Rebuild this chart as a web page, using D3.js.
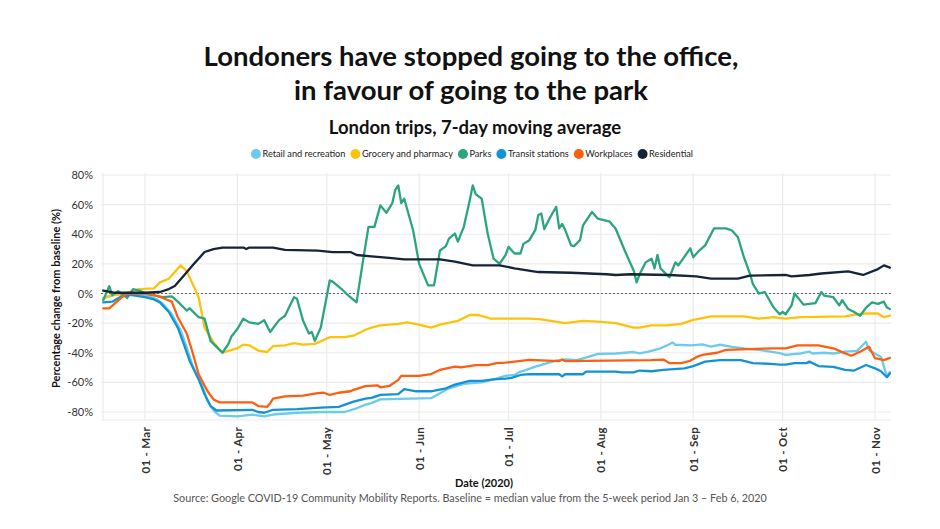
<!DOCTYPE html>
<html>
<head>
<meta charset="utf-8">
<script src="https://cdn.jsdelivr.net/npm/d3@7"></script>
<style>
  html, body { margin: 0; padding: 0; background: #fff; }
  svg { display: block; }
</style>
</head>
<body>
<svg id="chart" width="940" height="529"></svg>
<script>
// ---------- DATA (dates as MM-DD in 2020, values in % change) ----------
const seriesNames = ["Retail and recreation", "Grocery and pharmacy", "Parks", "Transit stations", "Workplaces", "Residential"];
const seriesColors = ["#6ccaeb", "#fcc30a", "#2ba57d", "#1393d3", "#fd5f10", "#17233a"];
const yTicks = [80, 60, 40, 20, 0, -20, -40, -60, -80];
const xTickDates = ["03-01", "04-01", "05-01", "06-01", "07-01", "08-01", "09-01", "10-01", "11-01"];

const retail = [
  ["02-16",-3],["02-20",-1],["02-24",0],["03-01",-1],["03-05",-4],["03-07",-7],["03-10",-14],["03-13",-25],
  ["03-15",-36.5],["03-17",-49],["03-20",-61],["03-22",-72.5],["03-24",-79],["03-26",-82.5],["04-01",-83],
  ["04-06",-81.7],["04-10",-83],["04-13",-81.7],["04-21",-80.5],["04-30",-80],["05-07",-80],["05-11",-77.5],
  ["05-14",-75],["05-16",-74],["05-19",-71.5],["06-05",-70.7],["06-08",-67.3],["06-11",-64],["06-16",-61],
  ["06-22",-60],["06-26",-58],["06-30",-55.6],["07-03",-55],["07-05",-52.7],["07-07",-51.6],["07-10",-49.4],
  ["07-14",-47],["07-17",-45.3],["07-20",-44.5],["07-24",-45],["07-28",-42.6],["07-31",-40.8],["08-06",-40.5],
  ["08-12",-39.5],["08-14",-40.4],["08-17",-39.3],["08-21",-37],["08-24",-34.3],["08-25",-33],["08-26",-34.6],
  ["08-31",-35],["09-04",-34.3],["09-07",-35.8],["09-10",-34.6],["09-14",-36],["09-18",-37],["09-23",-38],
  ["09-28",-39.6],["09-30",-40.3],["10-02",-41.5],["10-07",-40.5],["10-10",-39.3],["10-11",-40.5],["10-15",-40],
  ["10-18",-40.5],["10-22",-39.3],["10-26",-38.7],["10-29",-32.6],["10-30",-38.3],["11-03",-42.8],["11-05",-56],
  ["11-06",-53]
];
const grocery = [
  ["02-16",-3.5],["02-18",-1.5],["02-23",0],["02-28",3],["03-04",3.5],["03-06",7.5],["03-09",10],["03-11",14.5],
  ["03-13",19],["03-15",15],["03-17",6.5],["03-19",-2.5],["03-21",-23],["03-24",-33],["03-27",-40],["03-30",-38],
  ["04-01",-37],["04-03",-34.5],["04-05",-35],["04-08",-38.5],["04-11",-39.5],["04-13",-35.5],["04-17",-35],
  ["04-20",-33.5],["04-23",-34.5],["04-27",-34],["05-02",-29.5],["05-07",-29.5],["05-10",-28.5],["05-14",-24.5],
  ["05-16",-23],["05-19",-21.5],["05-25",-20.5],["05-28",-19.5],["06-01",-21],["06-05",-23],["06-08",-21],
  ["06-14",-18.5],["06-18",-14.5],["06-21",-14.5],["06-25",-17],["07-08",-17],["07-12",-17.5],["07-20",-20],
  ["07-26",-18.5],["07-31",-19],["08-06",-20],["08-12",-23],["08-14",-23],["08-18",-21.5],["08-23",-21.5],
  ["08-28",-20.5],["09-01",-17.8],["09-07",-15.5],["09-18",-15.5],["09-23",-17],["09-28",-16],["10-02",-17],
  ["10-07",-16],["10-22",-15.5],["10-26",-14],["10-29",-13.5],["11-02",-13.5],["11-04",-16],["11-06",-15]
];
const parks = [
  ["02-16",-4.5],["02-18",5],["02-19",-1],["02-21",1.5],["02-24",-3],["02-26",3],["02-28",2],["03-03",-1],
  ["03-07",-2.5],["03-10",-2],["03-12",-5.5],["03-15",-11.5],["03-16",-10],["03-19",-16],["03-21",-17],
  ["03-23",-32],["03-25",-36],["03-27",-40],["03-29",-34],["03-30",-29],["04-01",-24],["04-03",-17],["04-05",-19.5],
  ["04-08",-20.5],["04-10",-18],["04-12",-26],["04-15",-18],["04-17",-15],["04-20",-2.5],["04-21",-3.5],
  ["04-23",-18],["04-25",-27],["04-26",-26],["04-27",-32],["04-29",-23],["05-02",8.8],["05-03",8],["05-06",3],
  ["05-08",-1],["05-11",-6],["05-13",20],["05-15",45],["05-17",45],["05-19",59.5],["05-21",54.5],["05-23",61],
  ["05-24",70],["05-25",73],["05-26",61],["05-27",64],["05-30",42.5],["06-01",20],["06-04",5.5],["06-06",5.5],
  ["06-08",29],["06-10",32],["06-11",37],["06-13",40.5],["06-14",35],["06-16",45],["06-18",63],["06-19",73],
  ["06-20",67],["06-22",64],["06-24",40.5],["06-26",23.5],["06-28",20],["06-30",26],["07-01",31.5],["07-03",27],
  ["07-05",27],["07-06",33.5],["07-08",36],["07-10",43],["07-11",53],["07-12",54],["07-13",43.5],["07-15",51.5],
  ["07-17",58.5],["07-18",44],["07-19",47],["07-20",43],["07-22",32.5],["07-23",32],["07-25",36],["07-26",46],
  ["07-29",55],["07-31",50.5],["08-04",48.5],["08-06",43.5],["08-09",29],["08-12",15.5],["08-13",7.5],["08-14",13],
  ["08-16",21],["08-18",23.5],["08-19",17],["08-20",26],["08-21",17],["08-24",11],["08-26",21],["08-27",19],
  ["08-31",30.5],["09-01",24.5],["09-03",29],["09-05",32.5],["09-08",44],["09-12",44],["09-14",42.5],["09-16",38],
  ["09-18",24.5],["09-20",13.5],["09-21",6.5],["09-23",0],["09-25",1],["09-28",-9.5],["09-30",-14],["10-01",-12.5],
  ["10-02",-14],["10-04",-8],["10-05",0],["10-08",-7.5],["10-12",-6.5],["10-14",1],["10-15",-1.5],["10-18",-2.5],
  ["10-20",-8],["10-21",-4.5],["10-23",-10.5],["10-25",-12.5],["10-27",-15],["10-29",-9.5],["10-31",-6],
  ["11-02",-7],["11-04",-5.5],["11-05",-9.5],["11-06",-10.5]
];
const transit = [
  ["02-16",-6],["02-19",-5.5],["02-22",-2],["02-25",-1],["03-01",-2.5],["03-04",-4],["03-06",-6],["03-09",-12.5],
  ["03-12",-23],["03-14",-34],["03-16",-45.5],["03-19",-58],["03-21",-68],["03-23",-76],["03-25",-79],
  ["04-06",-78.5],["04-08",-80],["04-10",-80.5],["04-13",-78.5],["04-21",-78],["04-29",-77],["05-05",-76.5],
  ["05-10",-73],["05-14",-71],["05-16",-70.5],["05-19",-68.5],["05-25",-68],["05-27",-64.5],["05-31",-66],
  ["06-05",-66],["06-10",-64],["06-13",-61.5],["06-18",-59],["06-22",-59],["06-26",-58],["06-30",-57.5],
  ["07-02",-57],["07-05",-55],["07-08",-54.5],["07-18",-54.5],["07-19",-56],["07-20",-54.5],["07-26",-54.5],
  ["07-27",-52.7],["08-06",-52.7],["08-08",-53.3],["08-12",-53.3],["08-14",-52],["08-18",-52.5],["08-22",-51.5],
  ["08-29",-50.5],["09-01",-49],["09-05",-46],["09-10",-45],["09-17",-45],["09-21",-47],["09-27",-47.5],
  ["09-30",-48],["10-02",-48],["10-05",-47],["10-09",-47],["10-10",-46],["10-13",-49],["10-18",-49.5],
  ["10-22",-51.5],["10-25",-52],["10-29",-48.3],["11-01",-50.5],["11-03",-52.5],["11-05",-56.5],["11-06",-54]
];
const workplaces = [
  ["02-16",-10],["02-18",-10],["02-22",-3],["02-24",0],["03-01",0],["03-04",-1],["03-07",-3],["03-10",-5.5],
  ["03-12",-16],["03-15",-27],["03-17",-40],["03-19",-54.5],["03-22",-66],["03-24",-71.5],["03-26",-73.5],
  ["04-06",-73.5],["04-08",-76],["04-11",-76.5],["04-12",-74],["04-13",-71],["04-17",-69.5],["04-23",-69],
  ["04-28",-67.3],["04-30",-67],["05-02",-68.5],["05-05",-67],["05-09",-66],["05-10",-65],["05-14",-62.5],
  ["05-18",-62],["05-19",-63.3],["05-22",-62.4],["05-25",-58.3],["05-26",-55.6],["06-01",-55.6],["06-05",-54.4],
  ["06-08",-51.6],["06-13",-49.4],["06-15",-49.8],["06-20",-48.3],["06-24",-48.3],["06-27",-47],["06-30",-46.7],
  ["07-08",-44.8],["07-18",-45.6],["07-19",-44.6],["07-20",-45.6],["08-18",-45],["08-22",-44.6],["08-24",-47],
  ["08-28",-47],["08-31",-45.4],["09-02",-43],["09-04",-41.5],["09-09",-40],["09-12",-38],["09-28",-37],
  ["10-02",-37],["10-06",-35],["10-13",-35],["10-18",-37],["10-21",-39.6],["10-24",-42],["10-27",-39.3],
  ["10-30",-36],["11-01",-43.7],["11-04",-45],["11-06",-43.5]
];
const residential = [
  ["02-16",2],["02-20",0.5],["02-25",0.5],["03-01",0.5],["03-06",1],["03-09",3],["03-11",5],["03-14",12],
  ["03-17",19],["03-21",28],["03-24",30],["03-27",31],["04-03",31],["04-04",30],["04-05",31],["04-13",31],
  ["04-17",29.5],["04-28",29],["05-03",28],["05-09",28],["05-11",26],["05-16",25],["05-22",24],["05-27",23],
  ["06-08",23],["06-13",21.5],["06-19",19],["06-28",19],["07-03",17],["07-11",14.5],["07-22",14],["08-03",13],
  ["08-06",12.5],["08-11",13],["08-24",12.5],["09-02",11.5],["09-07",10],["09-16",10],["09-20",12],
  ["10-02",12.5],["10-04",11.5],["10-10",12.5],["10-14",13.5],["10-23",15],["10-28",12.5],["11-02",16.5],
  ["11-04",19],["11-06",17.5]
];
const seriesData = [retail, grocery, parks, transit, workplaces, residential];

const titleLines = ["Londoners have stopped going to the office,", "in favour of going to the park"];
const subtitle = "London trips, 7-day moving average";
const yAxisTitle = "Percentage change from baseline (%)";
const xAxisTitle = "Date (2020)";
const sourceText = "Source: Google COVID-19 Community Mobility Reports. Baseline = median value from the 5-week period Jan 3 \u2013 Feb 6, 2020";

// ---------- DRAW ----------
const parse = d3.timeParse("%Y-%m-%d");
const toDate = s => parse("2020-" + s);
const svg = d3.select("#chart");

const panel = {left: 101, right: 891, top: 173, bottom: 420};
const x = d3.scaleTime().domain([toDate("03-01"), toDate("11-01")]).range([145, 875]);
const y = d3.scaleLinear().domain([-80, 80]).range([412, 175]);

// Titles
const titleFont = "Lato, 'Open Sans', sans-serif";
svg.selectAll("text.title").data(titleLines).join("text")
  .attr("class", "title")
  .attr("x", 471).attr("y", (d, i) => 66 + i * 34)
  .attr("text-anchor", "middle")
  .style("font-family", titleFont).style("font-weight", 700)
  .style("font-size", "27.5px").style("fill", "#111")
  .text(d => d);

svg.append("text")
  .attr("x", 475).attr("y", 134)
  .attr("text-anchor", "middle")
  .style("font-family", titleFont).style("font-weight", 700)
  .style("font-size", "18.5px").style("fill", "#111")
  .text(subtitle);

// Legend
const legend = svg.append("g").attr("class", "legend");
let lx = 0;
seriesNames.forEach((name, i) => {
  const g = legend.append("g").attr("transform", `translate(${lx},0)`);
  g.append("circle").attr("cx", 0).attr("cy", 0).attr("r", 5).attr("fill", seriesColors[i]);
  const t = g.append("text").attr("x", 6.5).attr("y", 3.3)
    .style("font-family", "Lato, sans-serif").style("font-size", "9.2px").style("fill", "#222")
    .text(name);
  const w = t.node().getComputedTextLength();
  lx += 6.5 + w + 10;
});
const legendWidth = lx - 10 + 5;
legend.attr("transform", `translate(${472 - legendWidth / 2 + 5},154)`);

// Gridlines
const grid = svg.append("g").attr("class", "grid");
grid.selectAll("line.h").data(yTicks).join("line")
  .attr("x1", panel.left).attr("x2", panel.right)
  .attr("y1", d => y(d)).attr("y2", d => y(d))
  .attr("stroke", "#ebebeb").attr("stroke-width", 1.2);
grid.append("line").attr("x1", panel.left).attr("x2", panel.right)
  .attr("y1", panel.bottom).attr("y2", panel.bottom)
  .attr("stroke", "#ebebeb").attr("stroke-width", 1.2);
grid.selectAll("line.v").data(xTickDates).join("line")
  .attr("x1", d => x(toDate(d))).attr("x2", d => x(toDate(d)))
  .attr("y1", panel.top).attr("y2", panel.bottom)
  .attr("stroke", "#ebebeb").attr("stroke-width", 1.2);
grid.append("line").attr("x1", 103).attr("x2", 103)
  .attr("y1", panel.top).attr("y2", panel.bottom)
  .attr("stroke", "#ebebeb").attr("stroke-width", 1.2);

// Zero line
svg.append("line")
  .attr("x1", panel.left).attr("x2", panel.right)
  .attr("y1", y(0)).attr("y2", y(0))
  .attr("stroke", "#555").attr("stroke-width", 0.9).attr("stroke-dasharray", "2,2");

// Y axis labels
const yAxis = d3.axisLeft(y).tickValues(yTicks).tickSize(0).tickPadding(8)
  .tickFormat(d => d + "%");
svg.append("g").attr("transform", `translate(${panel.left},0)`).call(yAxis)
  .call(g => g.select(".domain").remove())
  .call(g => g.selectAll("text")
    .style("font-family", "Lato, sans-serif").style("font-size", "11px").style("fill", "#333"));

// X axis labels (rotated)
const xAxis = d3.axisBottom(x).tickValues(xTickDates.map(toDate)).tickSize(0)
  .tickFormat(d3.timeFormat("%d - %b"));
svg.append("g").attr("transform", `translate(0,${panel.bottom})`).call(xAxis)
  .call(g => g.select(".domain").remove())
  .call(g => g.selectAll("text")
    .attr("transform", "rotate(-90)")
    .attr("x", -7).attr("y", 0).attr("dy", "0.35em")
    .attr("text-anchor", "end")
    .style("font-family", "Lato, sans-serif").style("font-weight", 700)
    .style("font-size", "11.5px").style("letter-spacing", "0.3px").style("fill", "#333"));

// Axis titles
svg.append("text")
  .attr("transform", `translate(60,${(panel.top + panel.bottom) / 2 + 2}) rotate(-90)`)
  .attr("text-anchor", "middle")
  .style("font-family", "Lato, sans-serif").style("font-weight", 700)
  .style("font-size", "11px").style("fill", "#111")
  .text(yAxisTitle);

svg.append("text")
  .attr("x", 484).attr("y", 487)
  .attr("text-anchor", "middle")
  .style("font-family", "Lato, sans-serif").style("font-weight", 700)
  .style("font-size", "11px").style("fill", "#111")
  .text(xAxisTitle);

svg.append("text")
  .attr("x", 470).attr("y", 502)
  .attr("text-anchor", "middle")
  .style("font-family", "Lato, sans-serif").style("font-weight", 400)
  .style("font-size", "10.8px").style("fill", "#555")
  .text(sourceText);

// Lines
const line = d3.line()
  .x(d => x(toDate(d[0])))
  .y(d => y(d[1]));
svg.append("g").attr("class", "lines")
  .selectAll("path").data(seriesData).join("path")
  .attr("d", line)
  .attr("fill", "none")
  .attr("stroke", (d, i) => seriesColors[i])
  .attr("stroke-width", 2.3)
  .attr("stroke-linejoin", "round")
  .attr("stroke-linecap", "round");
</script>
</body>
</html>
